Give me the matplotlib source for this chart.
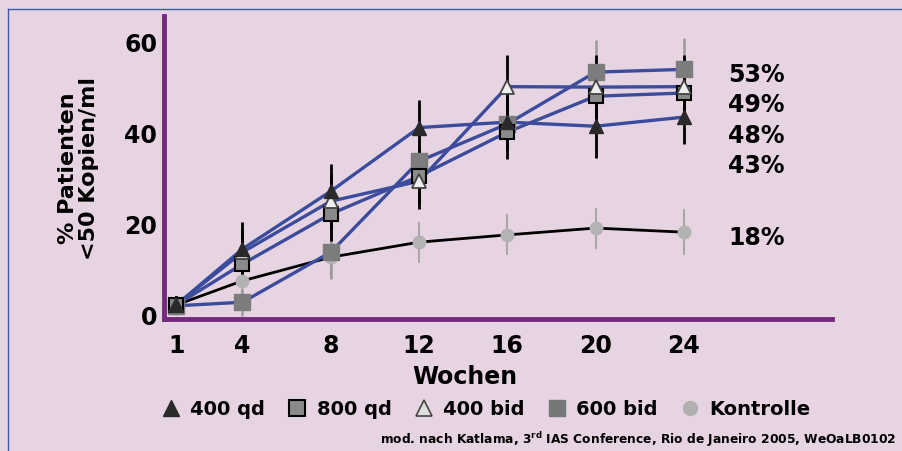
import numpy as np
import matplotlib
matplotlib.use('Agg')
import matplotlib.pyplot as plt
from matplotlib.lines import Line2D

plt.rcParams['font.family'] = ['DejaVu Sans']
plt.rcParams['mathtext.default'] = 'regular'

weeks = [1, 4, 8, 12, 16, 20, 24]
qd400 = [2, 14.3, 27, 41, 42.2, 41.3, 43.3]
qd800 = [2, 11, 22, 30.3, 40, 47.9, 48.6]
bid400 = [2, 13.6, 24.8, 29.2, 50, 49.9, 50]
bid600 = [1.8, 2.6, 13.6, 33.6, 41.8, 53.2, 53.8]
kontrolle = [2, 7.3, 12.5, 15.8, 17.4, 18.9, 18]

err_qd400 = [2, 6, 6, 6, 6, 7, 6]
err_qd800 = [2, 5, 6, 6, 6, 6, 6]
err_bid400 = [2, 5, 6, 6, 7, 7, 7]
err_bid600 = [2, 3, 6, 6, 6, 7, 7]
err_kontrolle = [2, 3.5, 4.5, 4.5, 4.5, 4.5, 5]

end_labels = ['53%', '49%', '48%', '43%', '18%']
end_label_y = [52.7, 46.2, 39.3, 32.7, 17]

legend_names = ['400 qd', '800 qd', '400 bid', '600 bid', 'Kontrolle']

bg = '#e7d4e2'
blue = '#3c4c9c'
purple = '#74297c'

fig = plt.figure(figsize=(9.02, 4.52), dpi=100, facecolor=bg)
ax = fig.add_axes([0.182, 0.292, 0.740, 0.670])
ax.set_facecolor(bg)

# error bars
ax.errorbar(weeks, kontrolle, yerr=err_kontrolle, fmt='none', ecolor='#a8a8a8', elinewidth=1.5, capsize=0, zorder=2)
ax.errorbar(weeks, bid600, yerr=err_bid600, fmt='none', ecolor='#9a9a9a', elinewidth=1.8, capsize=0, zorder=2)
ax.errorbar(weeks, qd800, yerr=err_qd800, fmt='none', ecolor='black', elinewidth=2, capsize=0, zorder=2)
ax.errorbar(weeks, bid400, yerr=err_bid400, fmt='none', ecolor='black', elinewidth=2, capsize=0, zorder=2)
ax.errorbar(weeks, qd400, yerr=err_qd400, fmt='none', ecolor='black', elinewidth=2, capsize=0, zorder=2)

# lines
ax.plot(weeks, kontrolle, color='black', lw=2, zorder=3)
for s in [qd400, qd800, bid400, bid600]:
    ax.plot(weeks, s, color=blue, lw=2.4, zorder=3)

# markers
ax.plot(weeks, kontrolle, 'o', ms=9, mfc='#b3b3b3', mec='#b3b3b3', zorder=4)
ax.plot(weeks, bid600, 's', ms=11, mfc='#7c7c7c', mec='#7c7c7c', zorder=4)
ax.plot(weeks, qd800, 's', ms=10, mfc='#8a8a8a', mec='black', mew=1.5, zorder=5)
ax.plot(weeks, bid400, '^', ms=10, mfc='#eeeeee', mec='#444444', mew=1.3, zorder=5)
ax.plot(weeks, qd400, '^', ms=10, mfc='#2a2a2a', mec='#2a2a2a', zorder=6)

for lab, yv in zip(end_labels, end_label_y):
    ax.text(26, yv, lab, fontsize=17, fontweight='bold', va='center', ha='left')

ax.set_xlim(0.45, 30.7)
ax.set_ylim(-1.1, 65.5)
ax.set_xticks(weeks)
ax.set_yticks([0, 20, 40, 60])
ax.tick_params(length=0, labelsize=17)
ax.tick_params(axis='x', pad=10)
ax.tick_params(axis='y', pad=5)
for t in ax.get_xticklabels() + ax.get_yticklabels():
    t.set_fontweight('bold')
for side in ['top', 'right']:
    ax.spines[side].set_visible(False)
for side in ['left', 'bottom']:
    ax.spines[side].set_color(purple)
    ax.spines[side].set_linewidth(3.5)

ax.set_xlabel('Wochen', fontsize=17, fontweight='bold', labelpad=5)
ax.xaxis.label.set_x(0.45)
ax.set_ylabel('% Patienten\n<50 Kopien/ml', fontsize=16, fontweight='bold', labelpad=18, linespacing=1.1)

handles = [
    Line2D([], [], ls='none', marker='^', ms=12, mfc='#2a2a2a', mec='#2a2a2a'),
    Line2D([], [], ls='none', marker='s', ms=11, mfc='#8a8a8a', mec='black', mew=1.5),
    Line2D([], [], ls='none', marker='^', ms=12, mfc='#dddddd', mec='#444444', mew=1.2),
    Line2D([], [], ls='none', marker='s', ms=11, mfc='#747878', mec='#747878'),
    Line2D([], [], ls='none', marker='o', ms=10, mfc='#b0b0b0', mec='#b0b0b0'),
]
leg = fig.legend(handles, legend_names, loc='center', bbox_to_anchor=(0.538, 0.093), ncol=5,
                 frameon=False, fontsize=14, handletextpad=0.45, columnspacing=1.1, handlelength=1.1)
for t in leg.get_texts():
    t.set_fontweight('bold')

fig.text(0.994, 0.027, 'mod. nach Katlama, 3$^{rd}$ IAS Conference, Rio de Janeiro 2005, WeOaLB0102',
         fontsize=8.8, fontweight='bold', ha='right', va='center')

# thin frame
fig.add_artist(Line2D([0.009, 1.0], [0.978, 0.978], transform=fig.transFigure, color='#3a5aa8', lw=1))
fig.add_artist(Line2D([0.009, 0.009], [0.0, 0.978], transform=fig.transFigure, color='#3a5aa8', lw=1))

fig.savefig('out.png', dpi=100, facecolor=bg)
